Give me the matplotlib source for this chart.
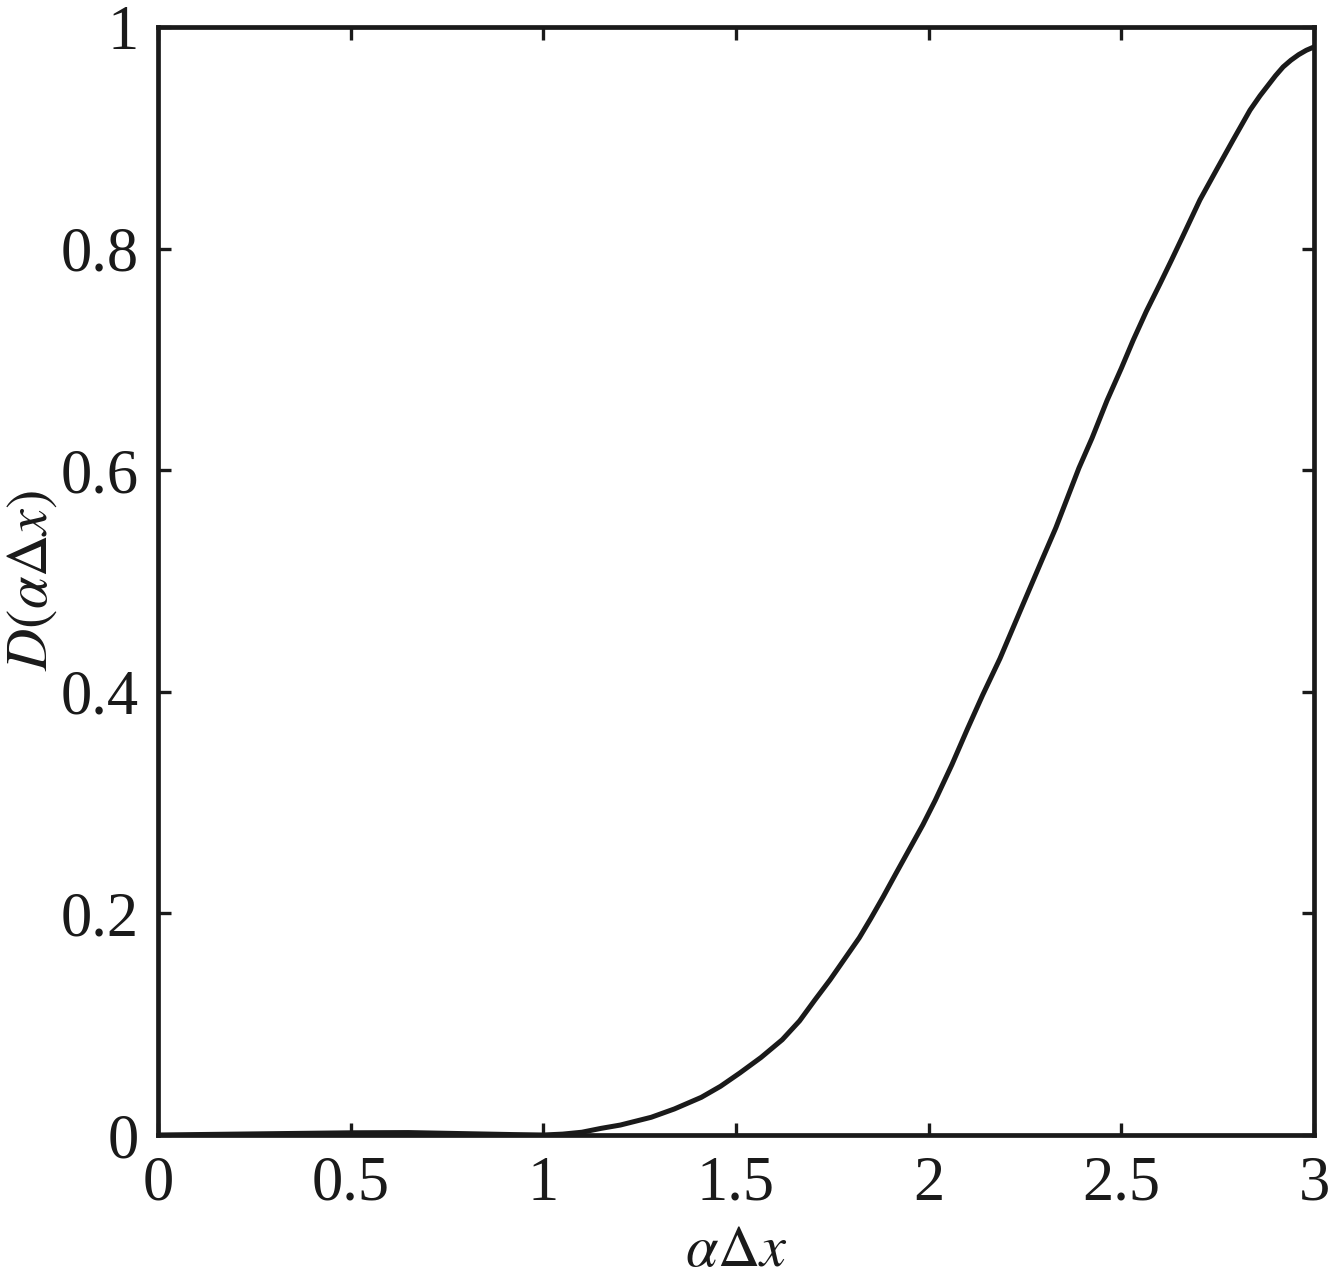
"""D(alpha*dx) curve, black line on white, Times-style labels."""
import matplotlib
matplotlib.use("Agg")
import matplotlib.pyplot as plt

plt.rcParams["font.family"] = ["Liberation Serif", "DejaVu Serif"]
plt.rcParams["mathtext.fontset"] = "stix"

INK = "#1a1a1a"

# values
adx = [0.0, 0.25, 0.5, 0.65, 0.8, 0.92, 1.0, 1.05, 1.1, 1.15, 1.2, 1.28,
       1.34, 1.41, 1.46, 1.51, 1.565, 1.62, 1.665, 1.705, 1.744, 1.78,
       1.82, 1.85, 1.882, 1.915, 1.95, 1.985, 2.017, 2.06, 2.10, 2.14,
       2.185, 2.24, 2.294, 2.33, 2.36, 2.39, 2.424, 2.463, 2.50, 2.531,
       2.565, 2.60, 2.63, 2.658, 2.704, 2.75, 2.79, 2.834, 2.86, 2.88,
       2.90, 2.92, 2.94, 2.96, 2.98, 3.0]
D = [0.0, 0.001, 0.002, 0.0022, 0.0012, 0.0004, 0.0, 0.0008, 0.0025, 0.006,
     0.009, 0.016, 0.0235, 0.034, 0.0440, 0.056, 0.0700, 0.086, 0.1030,
     0.122, 0.140, 0.158, 0.178, 0.1955, 0.215, 0.2360, 0.258, 0.2800,
     0.302, 0.3340, 0.366, 0.3970, 0.430, 0.4750, 0.519, 0.5480, 0.575,
     0.6020, 0.629, 0.663, 0.6920, 0.7175, 0.7435, 0.768, 0.7895, 0.810,
     0.844, 0.8730, 0.898, 0.925, 0.9380, 0.947, 0.9560, 0.964, 0.9700,
     0.975, 0.9790, 0.982]

xticks = [0, 0.5, 1, 1.5, 2, 2.5, 3]
xticklabels = ["0", "0.5", "1", "1.5", "2", "2.5", "3"]
yticks = [0, 0.2, 0.4, 0.6, 0.8, 1]
yticklabels = ["0", "0.2", "0.4", "0.6", "0.8", "1"]

fig = plt.figure(figsize=(13.28, 12.8), dpi=100)
ax = fig.add_axes([158 / 1328, 145 / 1280, 1156 / 1328, 1108 / 1280])

ax.plot(adx, D, color=INK, linewidth=3.6, solid_joinstyle="round",
        solid_capstyle="round")

ax.set_xlim(0, 3)
ax.set_ylim(0, 1)
ax.set_xticks(xticks)
ax.set_xticklabels(xticklabels)
ax.set_yticks(yticks)
ax.set_yticklabels(yticklabels)

ax.tick_params(direction="in", length=9, width=2.4, colors=INK,
               top=True, right=True, labelsize=45, pad=14)
ax.tick_params(axis="x", pad=15)
for s in ax.spines.values():
    s.set_linewidth(3.4)
    s.set_color(INK)

ax.set_xlabel(r"$\alpha\Delta x$", fontsize=42, color=INK)
ax.xaxis.set_label_coords(0.5, -0.082)
ax.set_ylabel(r"$D(\alpha\Delta x)$", fontsize=42, color=INK)
ax.yaxis.set_label_coords(-0.086, 0.5)

fig.savefig("out.png", dpi=100, facecolor="white")
